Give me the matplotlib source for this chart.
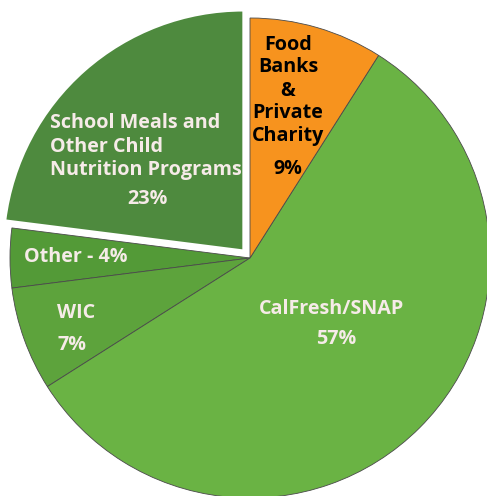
import matplotlib
matplotlib.use('Agg')
from matplotlib import pyplot as plt

#================================ Data ================================
labels = ['School Meals and\nOther Child\nNutrition Programs', 'Other - 4%', 'WIC',
          'CalFresh/SNAP', 'Food\nBanks\n&\nPrivate\nCharity']
shares = [23, 4, 7, 57, 9]
pct_text = ['23%', '', '7%', '57%', '9%']
colors = ['#4e8a3e', '#539a37', '#5da33c', '#6ab344', '#f7931e']

#================================ Figure ==============================
W, H = 487, 496
fig = plt.figure(figsize=(W / 100, H / 100), dpi=100)
ax = fig.add_axes([0, 0, 1, 1])

# pie drawn in pixel units; explode is in data units (pixels) here
cx, cy, r = 250, H - 258, 240
explode = [10, 0, 0, 0, 0]
wedges, _ = ax.pie(shares, colors=colors, explode=explode, startangle=90,
                   counterclock=True, center=(cx, cy), radius=r, frame=True,
                   wedgeprops=dict(linewidth=0.6, edgecolor='#4a4a4a'))
wedges[0].set_edgecolor('white')
wedges[0].set_linewidth(1.5)
ax.set_xlim(0, W)
ax.set_ylim(0, H)
ax.set_aspect('equal')
ax.axis('off')

#============================ Labels ==================================
font = dict(family=['Open Sans', 'DejaVu Sans'], fontweight='bold', fontsize=14.2)
light = '#f6ebe8'
step = 23
# (x, ha, y of first line, x of percent, y of percent) in pixels
pos = [(50, 'left', 121, 147, 197),
       (24, 'left', 255, None, None),
       (57, 'left', 310, 57, 342),
       (332, 'center', 306, 336, 337),
       (288, 'center', 42, 288, 167)]
for i, lab in enumerate(labels):
    x, ha, y0, xp, yp = pos[i]
    c = 'black' if i == 4 else light
    for k, line in enumerate(lab.split('\n')):
        ax.text(x, H - (y0 + k * step), line, ha=ha, va='center_baseline',
                color=c, **font)
    if yp is not None:
        ax.text(xp, H - yp, pct_text[i], ha='left' if i == 2 else 'center',
                va='center_baseline', color=c, **font)

fig.savefig('out.png', dpi=100)
